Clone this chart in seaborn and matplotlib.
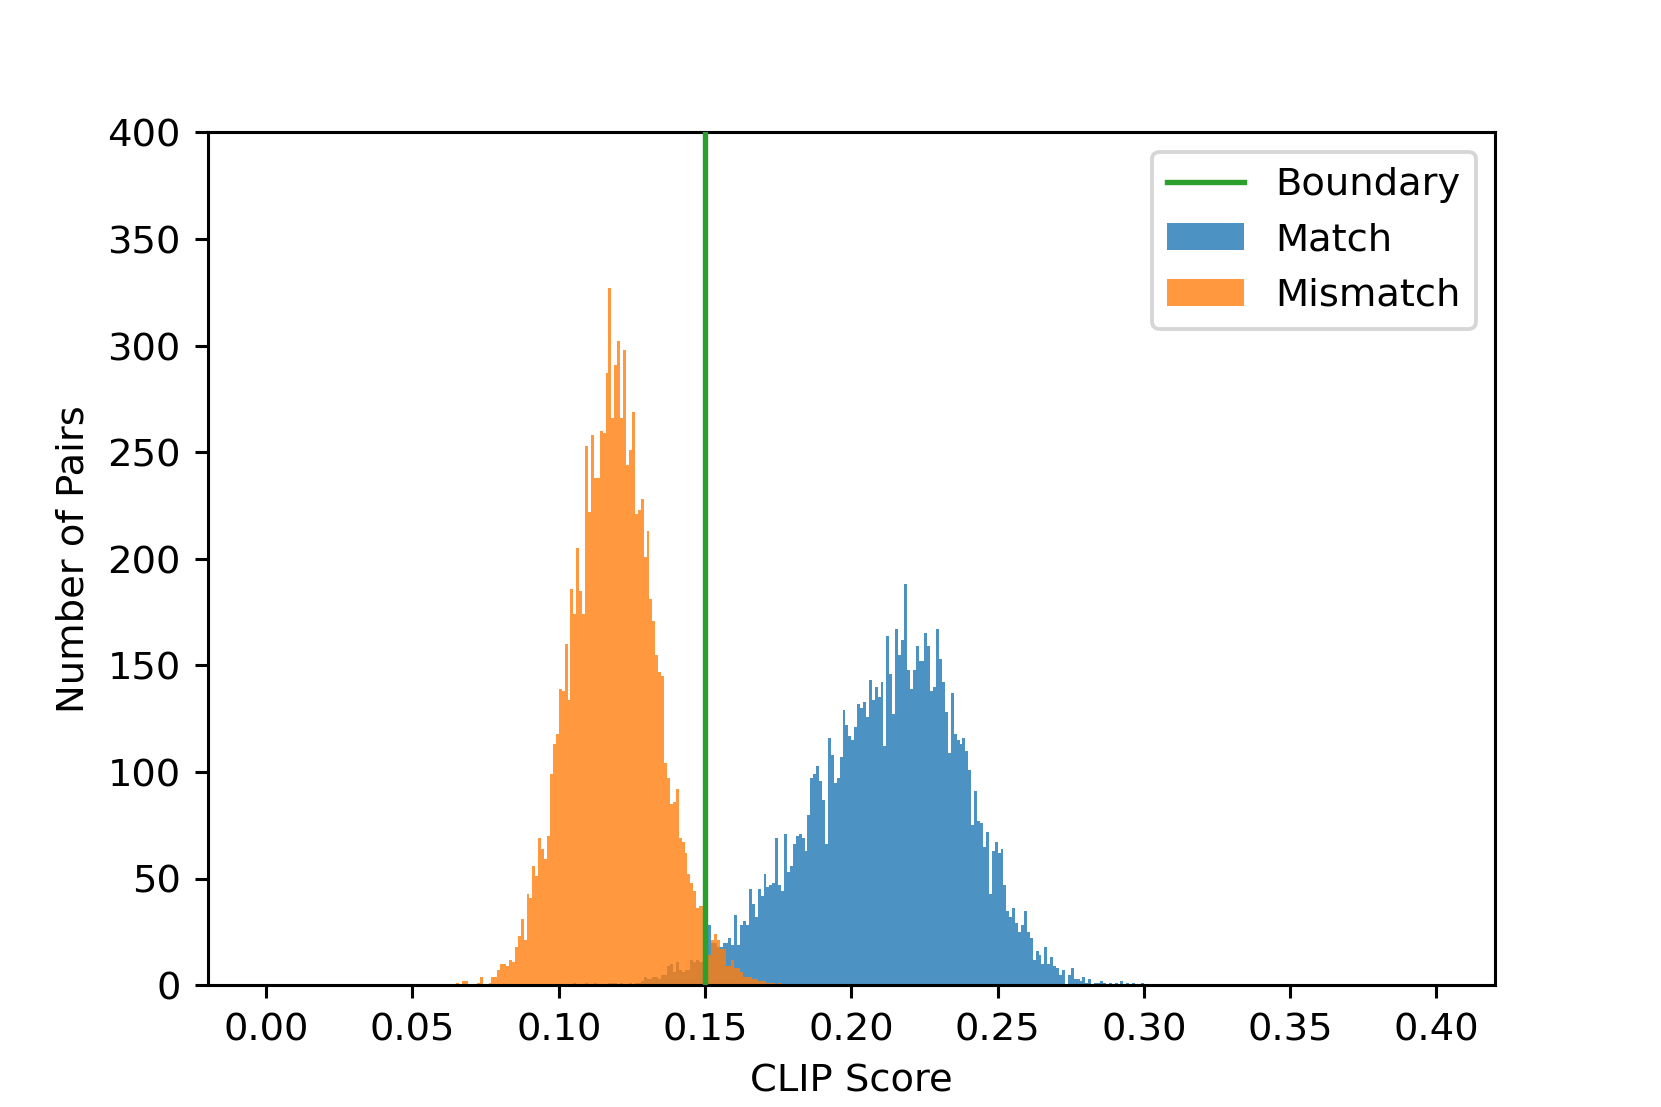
import numpy as np
import pandas as pd
import matplotlib
matplotlib.use("Agg")
import matplotlib.pyplot as plt
from matplotlib.lines import Line2D
from matplotlib.patches import Patch
import seaborn as sns

# ---- data (counts per 0.001-wide bin) ----
BIN_WIDTH = 0.001
boundary = 0.15

mismatch_start = 0.063
mismatch_counts = [
    0, 0, 1, 0, 2, 2, 0, 0, 0, 1,          # 0.063-0.072
    4, 0, 0, 1, 4, 4, 7, 10, 10, 9,        # 0.073-0.082
    12, 11, 18, 23, 31, 21, 43, 41, 56, 51,  # 0.083-0.092
    69, 64, 59, 70, 99, 113, 118, 139, 138, 160,  # 0.093-0.102
    134, 186, 174, 205, 185, 174, 253, 222, 258, 238,  # 0.103-0.112
    238, 260, 259, 287, 327, 266, 291, 302, 266, 298,  # 0.113-0.122
    244, 251, 269, 221, 223, 228, 201, 213, 181, 171,  # 0.123-0.132
    155, 147, 145, 104, 97, 85, 86, 92, 69, 67,        # 0.133-0.142
    62, 52, 48, 44, 36, 37, 37, 20, 14, 21,            # 0.143-0.152
    24, 21, 17, 17, 9, 9, 12, 8, 8, 6,                 # 0.153-0.162
    4, 4, 4, 3, 3, 2, 2, 2, 1, 1,                      # 0.163-0.172
    1, 0, 1,                                           # 0.173-0.175
]

match_start = 0.100
match_counts = [
    0, 0, 0, 0, 0, 1, 0, 0, 0, 1,              # 0.100
    0, 0, 1, 0, 0, 0, 0, 1, 1, 1,              # 0.110
    0, 1, 0, 0, 1, 0, 1, 1, 2, 4,              # 0.120
    3, 3, 4, 4, 3, 5, 5, 9, 10, 6,             # 0.130
    11, 7, 6, 7, 7, 12, 11, 12, 11, 11,        # 0.140
    16, 28, 20, 20, 18, 18, 20, 20, 22, 19,    # 0.150
    33, 19, 28, 30, 28, 45, 38, 32, 45, 42,    # 0.160
    52, 46, 47, 48, 69, 47, 44, 71, 53, 56,    # 0.170
    66, 70, 71, 69, 63, 80, 97, 99, 103, 96,   # 0.180
    87, 66, 116, 108, 95, 97, 107, 129, 122, 117,    # 0.190
    115, 121, 132, 130, 133, 126, 143, 134, 140, 135,  # 0.200
    142, 112, 164, 146, 127, 167, 155, 162, 188, 148,  # 0.210
    139, 148, 159, 152, 152, 165, 159, 138, 140, 167,  # 0.220
    153, 142, 128, 109, 137, 118, 115, 113, 116, 110,  # 0.230
    101, 75, 91, 77, 76, 65, 72, 43, 63, 67,           # 0.240
    62, 64, 47, 35, 32, 36, 29, 25, 28, 35,            # 0.250
    25, 22, 12, 16, 14, 10, 18, 10, 13, 9,             # 0.260
    8, 5, 7, 0, 5, 8, 3, 3, 2, 4,                      # 0.270
    1, 3, 0, 1, 1, 2, 1, 0, 1, 0,                      # 0.280
    1, 0, 2, 0, 1, 0, 1, 0, 0, 1,                      # 0.290
]

x_ticks = [0.00, 0.05, 0.10, 0.15, 0.20, 0.25, 0.30, 0.35, 0.40]
y_ticks = [0, 50, 100, 150, 200, 250, 300, 350, 400]

# ---- build tables ----
def centers(start, n):
    return start + BIN_WIDTH * (np.arange(n) + 0.5)

match_df = pd.DataFrame({"score": centers(match_start, len(match_counts)),
                         "count": np.asarray(match_counts, dtype=float)})
mismatch_df = pd.DataFrame({"score": centers(mismatch_start, len(mismatch_counts)),
                            "count": np.asarray(mismatch_counts, dtype=float)})

# ---- plot ----
fig, ax = plt.subplots(figsize=(6, 4), dpi=276.85)

sns.histplot(data=match_df, x="score", weights="count", bins=400,
             binrange=(0.0, 0.4), color="tab:blue", alpha=0.8,
             linewidth=0, ax=ax)
sns.histplot(data=mismatch_df, x="score", weights="count", bins=400,
             binrange=(0.0, 0.4), color="tab:orange", alpha=0.8,
             linewidth=0, ax=ax)
ax.axvline(boundary, color="tab:green", linewidth=1.4, zorder=5)

ax.set_xlim(-0.02, 0.42)
ax.set_ylim(0, 400)
ax.set_xticks(x_ticks)
ax.set_xticklabels([f"{t:.2f}" for t in x_ticks])
ax.set_yticks(y_ticks)
ax.set_xlabel("CLIP Score")
ax.set_ylabel("Number of Pairs")

handles = [
    Line2D([0], [0], color="tab:green", linewidth=1.4),
    Patch(facecolor="tab:blue", alpha=0.8, linewidth=0),
    Patch(facecolor="tab:orange", alpha=0.8, linewidth=0),
]
ax.legend(handles, ["Boundary", "Match", "Mismatch"], loc="upper right")

fig.savefig("out.png", dpi=276.85)
